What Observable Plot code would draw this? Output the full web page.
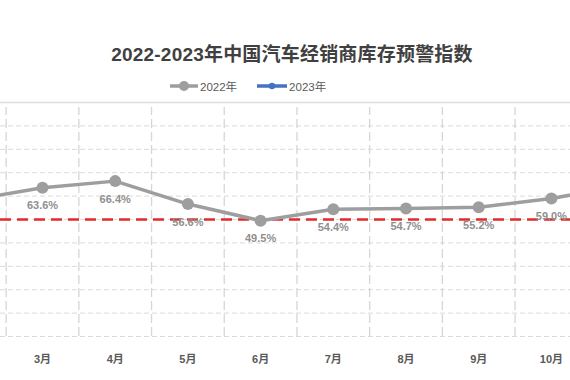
<!DOCTYPE html>
<html>
<head>
<meta charset="utf-8">
<script src="https://cdn.jsdelivr.net/npm/d3@7"></script>
<script src="https://cdn.jsdelivr.net/npm/@observablehq/plot@0.6"></script>
<style>
  html, body { margin: 0; padding: 0; background: #fff; }
  body { width: 570px; height: 380px; overflow: hidden; position: relative;
         font-family: "Liberation Sans", "Noto Sans CJK SC", sans-serif; }
  #title { position: absolute; top: 42px; left: 0; width: 584px; text-align: center;
           font-family: "Liberation Sans", "Noto Sans CJK SC", sans-serif;
           font-size: 19px; font-weight: bold; color: #404040; line-height: 26px; letter-spacing: 0.2px; }
  #legend { position: absolute; top: 78px; left: 170px; height: 16px; display: flex; align-items: center;
            font-size: 11.5px; color: #595959; font-family: "Liberation Sans", "Noto Sans CJK SC", sans-serif; }
  #legend .item { display: flex; align-items: center; margin-right: 20px; }
  #legend svg { display: block; }
  #chart { position: absolute; top: 96px; left: 0; }
  #chart svg { overflow: hidden; }
</style>
</head>
<body>
<div id="title">2022-2023年中国汽车经销商库存预警指数</div>
<div id="legend"></div>
<div id="chart"></div>
<script>
// ---- data ----
const months = ["1月","2月","3月","4月","5月","6月","7月","8月","9月","10月","11月","12月"];
const visibleMonths = ["3月","4月","5月","6月","7月","8月","9月","10月"];
const months2022 = ["2月","3月","4月","5月","6月","7月","8月","9月","10月","11月"];
const values2022 = [58.2, 63.6, 66.4, 56.6, 49.5, 54.4, 54.7, 55.2, 59.0, 64.5];
const seriesNames = ["2022年", "2023年"];
const seriesColors = ["#9e9e9e", "#4472c4"];
const warningLine = [50];
const yTicks = [0, 10, 20, 30, 40, 50, 60, 70, 80, 90];
const yMax = [100];

const data2022 = months2022.map((m, i) => ({label: m, month: months.indexOf(m) + 1, value: values2022[i]}));
const labelled2022 = data2022.filter(d => visibleMonths.includes(d.label));
const boundaries = d3.range(0, months.length + 1).map(k => k + 0.5);
const visibleTicks = visibleMonths.map(m => months.indexOf(m) + 1);

// ---- legend ----
const legend = document.getElementById("legend");
seriesNames.forEach((name, i) => {
  const item = document.createElement("div");
  item.className = "item";
  const r = i === 0 ? 5 : 3.2;
  const sw = i === 0 ? 28 : 30;
  item.innerHTML = `<svg width="${sw}" height="12"><line x1="0" x2="${sw}" y1="6" y2="6" stroke="${seriesColors[i]}" stroke-width="3.5"/><circle cx="${sw/2}" cy="6" r="${r}" fill="${seriesColors[i]}"/></svg><span style="margin-left:2px">${name}</span>`;
  legend.appendChild(item);
});

// ---- chart ----
const step = 72.7;
const center3 = 42;
const x0 = center3 - 2.5 * step;
const plot = Plot.plot({
  width: 570,
  height: 284,
  marginTop: 6,
  marginBottom: 44,
  marginLeft: 0,
  marginRight: 0,
  style: {fontFamily: "'Liberation Sans', 'Noto Sans CJK SC', sans-serif", overflow: "hidden", background: "#fff"},
  x: {type: "linear", domain: [0.5, months.length + 0.5], range: [x0, x0 + months.length * step], axis: null},
  y: {domain: [0, 100], axis: null},
  marks: [
    Plot.ruleY(yTicks, {stroke: "#dadada", strokeWidth: 1, strokeDasharray: "5,3"}),
    Plot.ruleY(yMax, {stroke: "#dcdcdc", strokeWidth: 1.5}),
    Plot.ruleX(boundaries, {y1: 0, y2: 100, stroke: "#d6d6d6", strokeWidth: 1.3, strokeDasharray: "9,4", insetBottom: -5}),
    Plot.ruleY(warningLine, {stroke: "#e02b2b", strokeWidth: 2.5, strokeDasharray: "11,6"}),
    Plot.line(data2022, {x: "month", y: "value", stroke: seriesColors[0], strokeWidth: 3.5}),
    Plot.dot(data2022, {x: "month", y: "value", r: 6, fill: seriesColors[0]}),
    Plot.text(labelled2022, {x: "month", y: "value", text: d => d.value.toFixed(1) + "%", dy: 18,
      fill: "#8f8f8f", fontSize: 11, fontWeight: "bold"}),
    Plot.axisX(visibleTicks, {tickFormat: d => months[d - 1], tickSize: 0, tickPadding: 19,
      fontSize: 11, fontWeight: "bold", fill: "#595959", label: null})
  ]
});
document.getElementById("chart").appendChild(plot);
</script>
</body>
</html>
